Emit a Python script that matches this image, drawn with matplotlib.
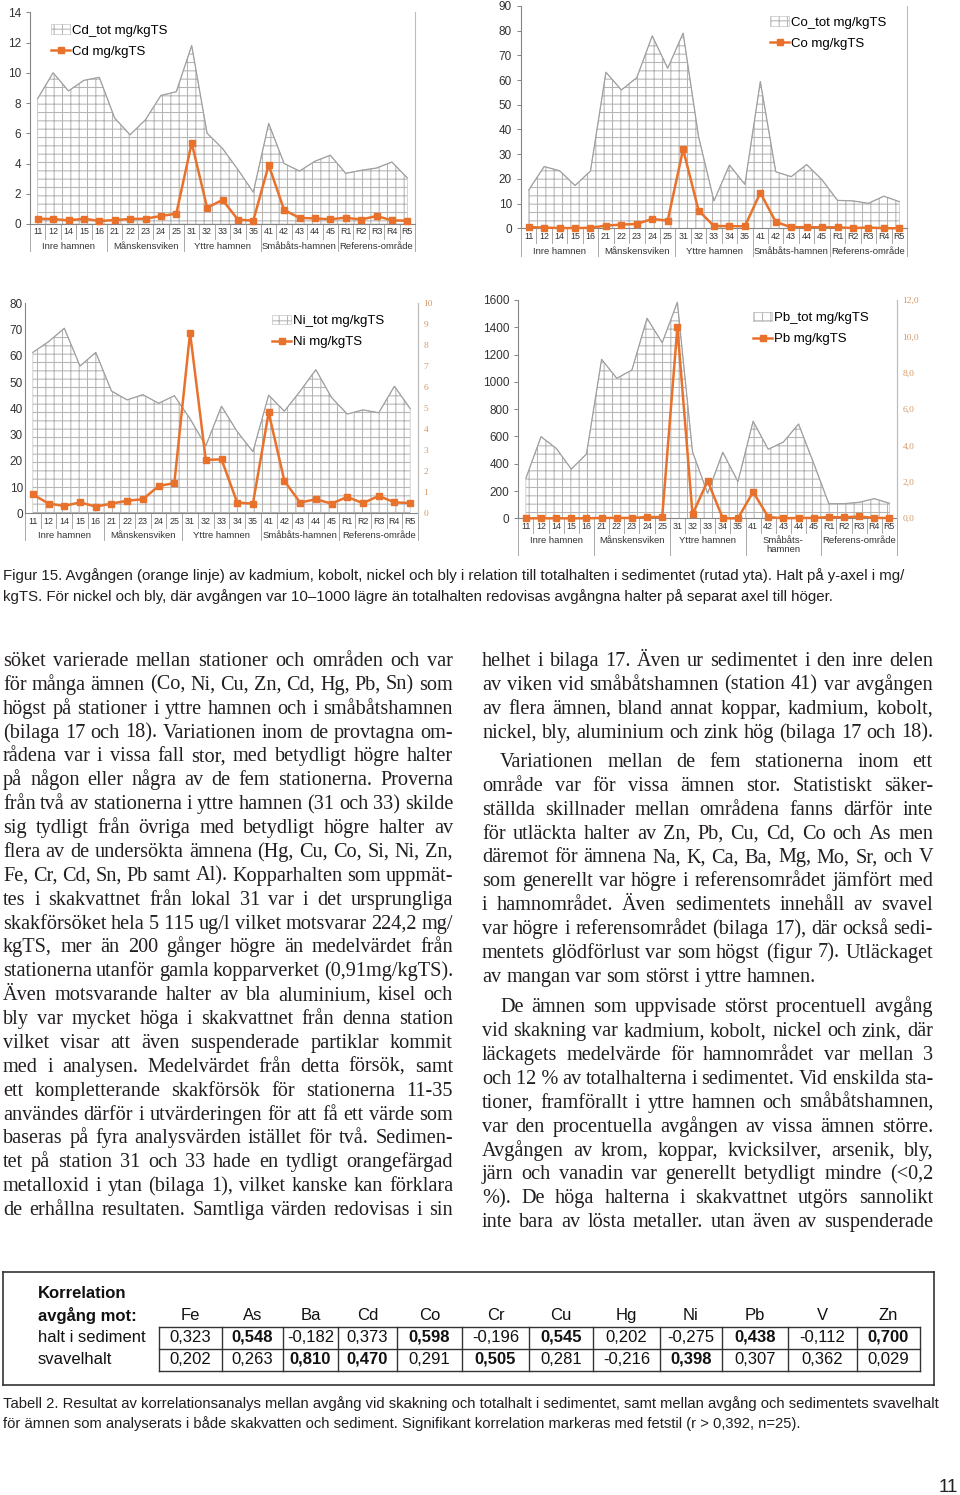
import matplotlib
matplotlib.use('Agg')
import matplotlib.pyplot as plt
from matplotlib import transforms
from matplotlib.lines import Line2D
from matplotlib.ticker import FuncFormatter

W, H = 960, 1495

# ---------------- chart data (mg/kgTS) ----------------
stations = ['11', '12', '14', '15', '16', '21', '22', '23', '24', '25',
            '31', '32', '33', '34', '35', '41', '42', '43', '44', '45',
            'R1', 'R2', 'R3', 'R4', 'R5']
areas = ['Inre hamnen', 'Månskensviken', 'Yttre hamnen', 'Småbåts-hamnen', 'Referens-område']
areas_pb = ['Inre hamnen', 'Månskensviken', 'Yttre hamnen', 'Småbåts-\nhamnen', 'Referens-område']

cd_tot = [8.3, 10.0, 8.8, 9.5, 9.7, 7.0, 5.9, 6.9, 8.5, 8.75, 11.8, 6.0, 5.0, 3.6, 2.1,
          6.65, 4.0, 3.5, 4.15, 4.55, 3.35, 3.55, 3.7, 4.1, 3.05]
cd = [0.35, 0.33, 0.24, 0.35, 0.2, 0.26, 0.33, 0.35, 0.53, 0.68, 5.36, 1.08, 1.59, 0.29, 0.22,
      3.9, 0.93, 0.4, 0.37, 0.31, 0.42, 0.29, 0.53, 0.24, 0.22]
co_tot = [15.5, 25, 23.3, 17.3, 23.2, 63.2, 56, 61, 77.9, 64.8, 79, 37.1, 11.1, 25.6, 17.8,
          59.4, 22.9, 20.9, 25.8, 19.6, 11.3, 11.1, 10.1, 13, 10.8]
co = [0.5, 0.3, 0.1, 0.1, 0.2, 1.1, 1.5, 1.75, 3.8, 3.1, 32, 7.2, 0.9, 0.9, 0.8,
      14.4, 2.6, 0.4, 0.5, 0.4, 0.4, 0.1, 0.3, 0.05, 0.0]
ni_tot = [61.3, 65.4, 70.5, 56.1, 61.3, 46.6, 43.2, 45.2, 41.9, 44.8, 36.0, 25.7, 40.8, 31.1, 23.5,
          45.0, 38.9, 46.5, 54.7, 44.1, 37.8, 39.4, 38.3, 48.4, 39.9]
ni = [0.9, 0.46, 0.35, 0.52, 0.32, 0.46, 0.6, 0.67, 1.3, 1.44, 8.6, 2.54, 2.57, 0.51, 0.46,
      4.8, 1.54, 0.51, 0.67, 0.46, 0.78, 0.48, 0.83, 0.52, 0.49]
pb_tot = [293, 598, 513, 361, 471, 1165, 1026, 1087, 1466, 1287, 1583, 488, 183, 484, 269,
          711, 506, 559, 691, 403, 107, 107, 117, 144, 110]
pb = [0, 0, 0, 0, 0, 0.02, 0.02, 0.02, 0.07, 0.07, 10.5, 0.22, 2.05, 0, 0,
      1.45, 0.07, 0, 0.02, 0.02, 0.07, 0.05, 0.1, 0.02, 0.02]

# ---------------- table data ----------------
elements = ['Fe', 'As', 'Ba', 'Cd', 'Co', 'Cr', 'Cu', 'Hg', 'Ni', 'Pb', 'V', 'Zn']
r_halt = [0.323, 0.548, -0.182, 0.373, 0.598, -0.196, 0.545, 0.202, -0.275, 0.438, -0.112, 0.700]
r_svavel = [0.202, 0.263, 0.810, 0.470, 0.291, 0.505, 0.281, -0.216, 0.398, 0.307, 0.362, 0.029]
r_crit = 0.392

# ---------------- text ----------------
fig_caption = [
    "Figur 15. Avgången (orange linje) av kadmium, kobolt, nickel och bly i relation till totalhalten i sedimentet (rutad yta). Halt på y-axel i mg/",
    "kgTS. För nickel och bly, där avgången var 10–1000 lägre än totalhalten redovisas avgångna halter på separat axel till höger.",
]
tab_caption = [
    "Tabell 2. Resultat av korrelationsanalys mellan avgång vid skakning och totalhalt i sedimentet, samt mellan avgång och sedimentets svavelhalt",
    "för ämnen som analyserats i både skakvatten och sediment. Signifikant korrelation markeras med fetstil (r > 0,392, n=25).",
]
left_col = [
    "söket varierade mellan stationer och områden och var",
    "för många ämnen (Co, Ni, Cu, Zn, Cd, Hg, Pb, Sn) som",
    "högst på stationer i yttre hamnen och i småbåtshamnen",
    "(bilaga 17 och 18). Variationen inom de provtagna om-",
    "rådena var i vissa fall stor, med betydligt högre halter",
    "på någon eller några av de fem stationerna. Proverna",
    "från två av stationerna i yttre hamnen (31 och 33) skilde",
    "sig tydligt från övriga med betydligt högre halter av",
    "flera av de undersökta ämnena (Hg, Cu, Co, Si, Ni, Zn,",
    "Fe, Cr, Cd, Sn, Pb samt Al). Kopparhalten som uppmät-",
    "tes i skakvattnet från lokal 31 var i det ursprungliga",
    "skakförsöket hela 5\u00a0115 ug/l vilket motsvarar 224,2 mg/",
    "kgTS, mer än 200 gånger högre än medelvärdet från",
    "stationerna utanför gamla kopparverket (0,91mg/kgTS).",
    "Även motsvarande halter av bla aluminium, kisel och",
    "bly var mycket höga i skakvattnet från denna station",
    "vilket visar att även suspenderade partiklar kommit",
    "med i analysen. Medelvärdet från detta försök, samt",
    "ett kompletterande skakförsök för stationerna 11-35",
    "användes därför i utvärderingen för att få ett värde som",
    "baseras på fyra analysvärden istället för två. Sedimen-",
    "tet på station 31 och 33 hade en tydligt orangefärgad",
    "metalloxid i ytan (bilaga 1), vilket kanske kan förklara",
    "de erhållna resultaten. Samtliga värden redovisas i sin",
]
right_p1 = [
    "helhet i bilaga 17. Även ur sedimentet i den inre delen",
    "av viken vid småbåtshamnen (station 41) var avgången",
    "av flera ämnen, bland annat koppar, kadmium, kobolt,",
    "nickel, bly, aluminium och zink hög (bilaga 17 och 18).",
]
right_p2 = [
    "Variationen mellan de fem stationerna inom ett",
    "område var för vissa ämnen stor. Statistiskt säker-",
    "ställda skillnader mellan områdena fanns därför inte",
    "för utläckta halter av Zn, Pb, Cu, Cd, Co och As men",
    "däremot för ämnena Na, K, Ca, Ba, Mg, Mo, Sr, och V",
    "som generellt var högre i referensområdet jämfört med",
    "i hamnområdet. Även sedimentets innehåll av svavel",
    "var högre i referensområdet (bilaga 17), där också sedi-",
    "mentets glödförlust var som högst (figur 7). Utläckaget",
    "av mangan var som störst i yttre hamnen.",
]
right_p3 = [
    "De ämnen som uppvisade störst procentuell avgång",
    "vid skakning var kadmium, kobolt, nickel och zink, där",
    "läckagets medelvärde för hamnområdet var mellan 3",
    "och 12\u00a0% av totalhalterna i sedimentet. Vid enskilda sta-",
    "tioner, framförallt i yttre hamnen och småbåtshamnen,",
    "var den procentuella avgången av vissa ämnen större.",
    "Avgången av krom, koppar, kvicksilver, arsenik, bly,",
    "järn och vanadin var generellt betydligt mindre (<0,2",
    "%). De höga halterna i skakvattnet utgörs sannolikt",
    "inte bara av lösta metaller. utan även av suspenderade",
]

# ---------------- styles ----------------
ORANGE = '#E8722C'
RIGHT_TICK = '#D49A68'
HATCH = '#b4b4b4'
EDGE = '#a0a0a0'
AXIS = '#858585'
TEXT = '#231f20'
SANS = 'Liberation Sans'
SERIF = 'Liberation Serif'
NARROW = ['Liberation Sans Narrow', 'Liberation Sans']

plt.rcParams['font.family'] = SANS
plt.rcParams['hatch.linewidth'] = 0.75
plt.rcParams['hatch.color'] = HATCH

fig = plt.figure(figsize=(W / 100, H / 100), dpi=100)
renderer = fig.canvas.get_renderer()


def fx(x):
    return x / W


def fy(y):
    return 1 - y / H


def draw_chart(box, tot, rel, name, ymax, ystep, legend_xy, groups=areas,
               right=None, ytick_len=3, ytick_pad=3.5, grp_depth=27, grp_y=23):
    l, t, r, b = box
    ax = fig.add_axes([fx(l), fy(b), (r - l) / W, (b - t) / H])
    x = list(range(len(stations)))
    # hatched area for the total content
    fill, = ax.fill(x + [x[-1], x[0]], list(tot) + [0, 0], facecolor='white',
                    edgecolor=HATCH, hatch='++', linewidth=0.4,
                    label=f'{name}_tot mg/kgTS', zorder=1)
    ax.plot(x, tot, color=EDGE, lw=0.9, zorder=2)
    ax.set_xlim(-0.5, len(x) - 0.5)
    ax.set_ylim(0, ymax)
    ax.set_yticks(range(0, ymax + 1, ystep))
    ax.tick_params(axis='y', length=ytick_len, width=0.7, color=AXIS, pad=ytick_pad,
                   labelsize=8.5, labelcolor='#333333')
    ax.set_xticks(x, stations)
    ax.tick_params(axis='x', length=0, pad=2.4, labelsize=6.4, labelcolor='#333333')
    ax.spines['top'].set_visible(False)
    ax.spines['left'].set_color(AXIS)
    ax.spines['bottom'].set_color(AXIS)
    ax.spines['right'].set_color('#bdbdbd')
    for s in ax.spines.values():
        s.set_linewidth(0.8)

    # multi level category axis
    ah = b - t
    trans = transforms.blended_transform_factory(ax.transData, ax.transAxes)
    for i in range(len(x) + 1):
        depth = grp_depth if i % 5 == 0 else 15
        ax.plot([i - 0.5, i - 0.5], [0, -depth / ah], transform=trans, clip_on=False,
                color='#9a9a9a', lw=0.6)
    for g, lab in enumerate(groups):
        ax.text(5 * g + 2, -(grp_y - 4.8) / ah, lab, transform=trans, ha='center', va='top',
                fontsize=6.8, color='#333333', linespacing=1.0)

    target = ax
    if right is not None:
        rmax, rstep, fmt = right
        ax2 = ax.twinx()
        ax2.set_ylim(0, rmax)
        ax2.set_yticks(range(0, rmax + 1, rstep))
        ax2.yaxis.set_major_formatter(FuncFormatter(fmt))
        ax2.tick_params(axis='y', length=0, pad=4, labelsize=6.8, labelcolor=RIGHT_TICK)
        for lab in ax2.get_yticklabels():
            lab.set_family(SERIF)
        for s in ax2.spines.values():
            s.set_visible(False)
        ax2.spines['right'].set_visible(True)
        ax2.spines['right'].set_color('#bdbdbd')
        ax2.spines['right'].set_linewidth(0.8)
        target = ax2
    line, = target.plot(x, rel, color=ORANGE, lw=1.8, marker='s', ms=4, zorder=5,
                        clip_on=False, label=f'{name} mg/kgTS')

    lx, ly = legend_xy
    fig.legend([fill, line], [fill.get_label(), line.get_label()], loc='upper left',
               bbox_to_anchor=(fx(lx), fy(ly)), bbox_transform=fig.transFigure,
               frameon=False, borderpad=0, borderaxespad=0, handlelength=1.45,
               handletextpad=0.12, labelspacing=0.68, fontsize=9.5, numpoints=1)
    return ax


draw_chart((30, 12.3, 415, 224), cd_tot, cd, 'Cd', 14, 2, (51, 24.5))
draw_chart((521, 6, 907, 228.3), co_tot, co, 'Co', 90, 10, (770, 16.5), grp_depth=28)
draw_chart((25, 303.3, 418, 513.3), ni_tot, ni, 'Ni', 80, 10, (272, 315),
           right=(10, 1, lambda v, p: f'{v:.0f}'), ytick_len=0, ytick_pad=1.5)
draw_chart((518.3, 300, 897, 518.3), pb_tot, pb, 'Pb', 1600, 200, (753, 312),
           groups=areas_pb, right=(12, 2, lambda v, p: f'{v:.1f}'.replace('.', ',')),
           grp_depth=37, grp_y=22.4)


# ---------------- text helpers ----------------
def fit_size(text, width, family, size0=10.0, weight='normal'):
    t = fig.text(0, 0, text, fontsize=size0, family=family, weight=weight)
    w = t.get_window_extent(renderer).width
    t.remove()
    return size0 * width / w


def put_line(text, x0, x1, y, justify=True, size=14.6):
    words = text.split(' ')
    while True:
        objs = [fig.text(0, 0, w, fontsize=size, family=SERIF, color=TEXT,
                         va='baseline', ha='left') for w in words]
        widths = [o.get_window_extent(renderer).width for o in objs]
        if justify and len(words) > 1:
            gap = (x1 - x0 - sum(widths)) / (len(words) - 1)
            if gap < 2.5 and size > 10:
                for o in objs:
                    o.remove()
                size -= 0.2
                continue
        else:
            gap = size * 100 / 72 * 0.25
        break
    xx = x0
    for o, w in zip(objs, widths):
        o.set_position((fx(xx), fy(y)))
        xx += w + gap


# captions
cap_size = fit_size(fig_caption[0], 908, NARROW)
for i, line in enumerate(fig_caption):
    fig.text(fx(3), fy(576 + 20.5 * i), line, fontsize=cap_size, family=NARROW,
             color=TEXT, va='center', ha='left')

tab_size = fit_size(tab_caption[0], 930, NARROW)
for i, line in enumerate(tab_caption):
    fig.text(fx(3), fy(1404 + 19.5 * i), line, fontsize=tab_size, family=NARROW,
             color=TEXT, va='center', ha='left')

# body text, two justified columns
LH = 23.87
for i, line in enumerate(left_col):
    put_line(line, 3, 453, 666 + LH * i)

for i, line in enumerate(right_p1):
    put_line(line, 482, 933, 666 + LH * i)
for i, line in enumerate(right_p2):
    put_line(line, 500 if i == 0 else 482, 933, 767 + LH * i,
             justify=i < len(right_p2) - 1)
for i, line in enumerate(right_p3):
    put_line(line, 500 if i == 0 else 482, 933, 1012.3 + LH * i)


# ---------------- table ----------------
def hline(x0, x1, y, lw=1.0, color='#333333'):
    fig.add_artist(Line2D([fx(x0), fx(x1)], [fy(y), fy(y)], transform=fig.transFigure,
                          color=color, lw=lw))


def vline(x, y0, y1, lw=1.0, color='#333333'):
    fig.add_artist(Line2D([fx(x), fx(x)], [fy(y0), fy(y1)], transform=fig.transFigure,
                          color=color, lw=lw))


# outer frame
hline(3, 934, 1272, lw=1.2)
hline(3, 934, 1385, lw=1.2)
vline(3, 1272, 1385, lw=1.2)
vline(934, 1272, 1385, lw=1.2)

col_edges = [159, 222, 283, 338, 397, 462, 529, 593, 660, 722, 788, 857, 920]
row_edges = [1327, 1348.5, 1371]
for y in row_edges:
    hline(col_edges[0], col_edges[-1], y)
for x in col_edges:
    vline(x, row_edges[0], row_edges[-1])

fig.text(fx(38), fy(1293), 'Korrelation', fontsize=12, weight='bold', color='#111111',
         va='center', ha='left')
fig.text(fx(38), fy(1315.5), 'avgång mot:', fontsize=12, weight='bold', color='#111111',
         va='center', ha='left')
fig.text(fx(38), fy(1337.5), 'halt i sediment', fontsize=12, color='#111111',
         va='center', ha='left')
fig.text(fx(38), fy(1359.5), 'svavelhalt', fontsize=12, color='#111111',
         va='center', ha='left')

for j, el in enumerate(elements):
    cx = (col_edges[j] + col_edges[j + 1]) / 2
    fig.text(fx(cx), fy(1315.5), el, fontsize=12, color='#111111', ha='center', va='center')
    for vals, yc in ((r_halt, 1337.5), (r_svavel, 1359.5)):
        v = vals[j]
        fig.text(fx(cx), fy(yc), f'{v:.3f}'.replace('.', ','), fontsize=12,
                 weight='bold' if v > r_crit else 'normal', color='#111111',
                 ha='center', va='center')

# page number
fig.text(fx(958), fy(1487), '11', fontsize=13.5, color='#222222', ha='right', va='center')

fig.savefig('out.png', dpi=100)
